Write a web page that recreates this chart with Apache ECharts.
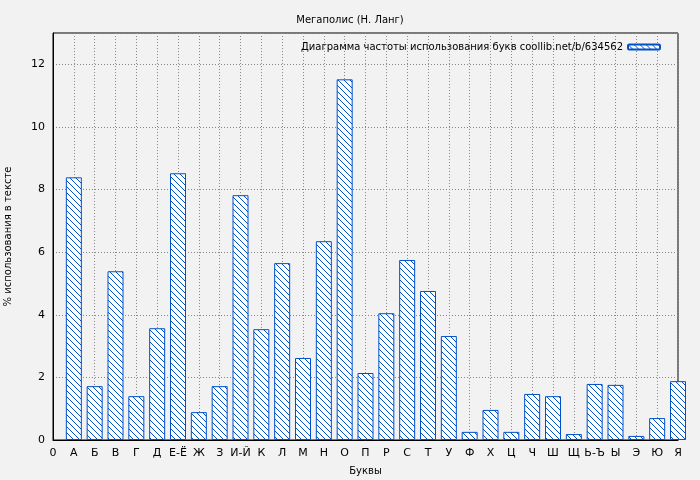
<!DOCTYPE html>
<html lang="ru">
<head>
    <meta charset="UTF-8">
    <title>Мегаполис</title>
    <script src="https://cdn.jsdelivr.net/npm/echarts@6/dist/echarts.min.js"></script>
</head>
<body style="margin:0;background:#f2f2f2">
    <div id="chart" style="width: 700px; height: 480px;"></div>
    <script>
        const tickLabels = ['0', 'А', 'Б', 'В', 'Г', 'Д', 'Е-Ё', 'Ж', 'З', 'И-Й', 'К', 'Л', 'М', 'Н', 'О', 'П', 'Р', 'С', 'Т', 'У', 'Ф', 'Х', 'Ц', 'Ч', 'Ш', 'Щ', 'Ь-Ъ', 'Ы', 'Э', 'Ю', 'Я'];
        const percents = [8.39, 1.72, 5.39, 1.40, 3.57, 8.52, 0.89, 1.72, 7.82, 3.54, 5.65, 2.62, 6.35, 11.52, 2.14, 4.05, 5.75, 4.76, 3.32, 0.26, 0.96, 0.26, 1.47, 1.40, 0.19, 1.79, 1.76, 0.13, 0.70, 1.88];

        // штриховка для столбцов
        const hatch = document.createElement('canvas');
        hatch.width = 6; hatch.height = 6;
        const ctx = hatch.getContext('2d');
        ctx.fillStyle = '#ffffff';
        ctx.fillRect(0, 0, 6, 6);
        ctx.strokeStyle = '#0050c8';
        ctx.lineWidth = 1;
        ctx.beginPath();
        ctx.moveTo(0, 0); ctx.lineTo(6, 6);
        ctx.moveTo(-3, 3); ctx.lineTo(3, 9);
        ctx.moveTo(3, -3); ctx.lineTo(9, 3);
        ctx.stroke();

        const myChart = echarts.init(document.getElementById('chart'));
        const gridLine = { show: true, lineStyle: { color: '#888', type: [1, 2] } };
        const seriesName = 'Диаграмма частоты использования букв coollib.net/b/634562';
        let option = {
            backgroundColor: '#f2f2f2',
            animation: false,
            title: {
                text: 'Мегаполис (Н. Ланг)',
                left: 'center', top: 10,
                textStyle: { fontSize: 10, fontWeight: 'normal', color: '#000', fontFamily: 'DejaVu Sans' }
            },
            legend: {
                right: 34, top: 37,
                align: 'right',
                itemGap: 4,
                itemWidth: 32, itemHeight: 5,
                textStyle: { fontSize: 10, color: '#000', fontFamily: 'DejaVu Sans' },
                data: [seriesName]
            },
            grid: { left: 53, right: 22, top: 33, bottom: 40, containLabel: false, outerBoundsMode: 'none', show: true, borderColor: '#000', borderWidth: 1, backgroundColor: '#f2f2f2' },
            xAxis: {
                type: 'value', min: 0, max: 30, interval: 1,
                name: 'Буквы', nameLocation: 'middle', nameGap: 26,
                nameTextStyle: { fontSize: 10, color: '#000', fontFamily: 'DejaVu Sans' },
                axisLine: { lineStyle: { color: '#000' } },
                axisTick: { show: false },
                axisLabel: { fontSize: 11, color: '#000', fontFamily: 'DejaVu Sans', formatter: v => tickLabels[v] || '' },
                splitLine: gridLine
            },
            yAxis: {
                type: 'value', min: 0, max: 13, interval: 2,
                name: '% использования в тексте', nameLocation: 'middle', nameGap: 40,
                nameTextStyle: { fontSize: 10, color: '#000', fontFamily: 'DejaVu Sans' },
                axisLine: { show: true, lineStyle: { color: '#000' } },
                axisTick: { show: false },
                axisLabel: { fontSize: 11, color: '#000', fontFamily: 'DejaVu Sans', formatter: v => v % 2 === 0 && v <= 12 ? v : '' },
                splitLine: gridLine
            },
            series: [{
                name: seriesName,
                type: 'bar',
                barWidth: 16,
                clip: true,
                itemStyle: { color: { image: hatch, repeat: 'repeat' }, borderColor: '#0050c8', borderWidth: 1 },
                data: percents.map((v, i) => [i + 1, v])
            }]
        };
        myChart.setOption(option);
    </script>
</body>
</html>
